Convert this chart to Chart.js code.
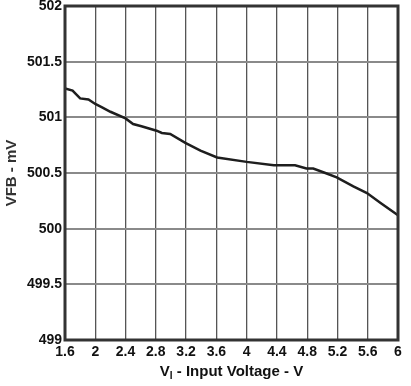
<!DOCTYPE html>
<html>
<head>
<meta charset="utf-8">
<script src="https://cdn.jsdelivr.net/npm/chart.js@4/dist/chart.umd.min.js"></script>
<style>
  html, body { margin: 0; padding: 0; background: #fff; }
  #wrap { width: 411px; height: 386px; }
</style>
</head>
<body>
<div id="wrap"><canvas id="chart" width="411" height="386"></canvas></div>
<script>
// datos
const inputVoltage = [1.6, 1.7, 1.8, 1.91, 2.0, 2.09, 2.2, 2.4, 2.5, 2.61, 2.81, 2.88, 2.99, 3.19, 3.39, 3.61, 4.0, 4.36, 4.64, 4.79, 4.88, 5.04, 5.19, 5.41, 5.59, 5.77, 6.0];
const vfb = [501.26, 501.24, 501.17, 501.16, 501.12, 501.09, 501.05, 500.99, 500.94, 500.92, 500.88, 500.86, 500.85, 500.77, 500.70, 500.64, 500.60, 500.57, 500.57, 500.54, 500.54, 500.50, 500.46, 500.38, 500.32, 500.23, 500.12];
const xTicks = [1.6, 2, 2.4, 2.8, 3.2, 3.6, 4, 4.4, 4.8, 5.2, 5.6, 6];
const yTicks = [499, 499.5, 500, 500.5, 501, 501.5, 502];

const fontTicks = { family: "'Liberation Sans', Arial, sans-serif", size: 14, weight: 'bold' };

// marco grueso y titulos de los ejes
const framePlugin = {
    id: 'frame',
    afterDraw(chart) {
        const ctx = chart.ctx;
        const a = chart.chartArea;
        ctx.save();
        ctx.strokeStyle = '#333';
        ctx.lineWidth = 3;
        ctx.strokeRect(a.left, a.top, a.right - a.left, a.bottom - a.top);

        ctx.fillStyle = '#111';
        ctx.textBaseline = 'alphabetic';
        // titulo eje x con subindice
        const p1 = 'V', sub = 'I', p2 = ' - Input Voltage - V';
        ctx.font = "bold 15px 'Liberation Sans', Arial, sans-serif";
        const w1 = ctx.measureText(p1).width;
        const w3 = ctx.measureText(p2).width;
        ctx.font = "bold 10px 'Liberation Sans', Arial, sans-serif";
        const w2 = ctx.measureText(sub).width;
        const total = w1 + w2 + w3;
        let x = (a.left + a.right) / 2 - total / 2;
        const y = 376;
        ctx.font = "bold 15px 'Liberation Sans', Arial, sans-serif";
        ctx.fillText(p1, x, y);
        x += w1;
        ctx.font = "bold 10px 'Liberation Sans', Arial, sans-serif";
        ctx.fillText(sub, x, y + 3);
        x += w2;
        ctx.font = "bold 15px 'Liberation Sans', Arial, sans-serif";
        ctx.fillText(p2, x, y);

        // titulo eje y
        ctx.translate(16, (a.top + a.bottom) / 2);
        ctx.rotate(-Math.PI / 2);
        ctx.textAlign = 'center';
        ctx.fillStyle = '#333';
        ctx.fillText('VFB - mV', 0, 0);
        ctx.restore();
    }
};

const ctxChart = document.getElementById('chart').getContext('2d');
const grafica = new Chart(ctxChart, {
    type: 'line',
    data: {
        datasets: [{
            data: inputVoltage.map((v, i) => ({ x: v, y: vfb[i] })),
            borderColor: '#1e1e1e',
            borderWidth: 2.5,
            pointRadius: 0,
            tension: 0,
            fill: false
        }]
    },
    options: {
        responsive: false,
        animation: false,
        layout: { padding: { top: 6, right: 13, left: 0, bottom: 0 } },
        plugins: { legend: { display: false }, tooltip: { enabled: false } },
        scales: {
            x: {
                type: 'linear',
                min: 1.6,
                max: 6,
                afterBuildTicks: (scale) => { scale.ticks = xTicks.map(v => ({ value: v })); },
                afterFit: (scale) => { scale.height = 46; },
                ticks: {
                    color: '#111',
                    font: fontTicks,
                    padding: 4,
                    maxRotation: 0,
                    callback: (v) => String(v)
                },
                grid: { color: '#555', lineWidth: 1.3, drawTicks: false },
                border: { display: false }
            },
            y: {
                min: 499,
                max: 502,
                afterBuildTicks: (scale) => { scale.ticks = yTicks.map(v => ({ value: v })); },
                afterFit: (scale) => {
                    scale.width = 65;
                    scale.paddingTop = 0;
                    scale.paddingBottom = 0;
                },
                ticks: {
                    color: '#111',
                    font: fontTicks,
                    padding: 3,
                    callback: (v) => String(v)
                },
                grid: { color: '#8a8a8a', lineWidth: 2, drawTicks: false },
                border: { display: false }
            }
        }
    },
    plugins: [framePlugin]
});
</script>
</body>
</html>
